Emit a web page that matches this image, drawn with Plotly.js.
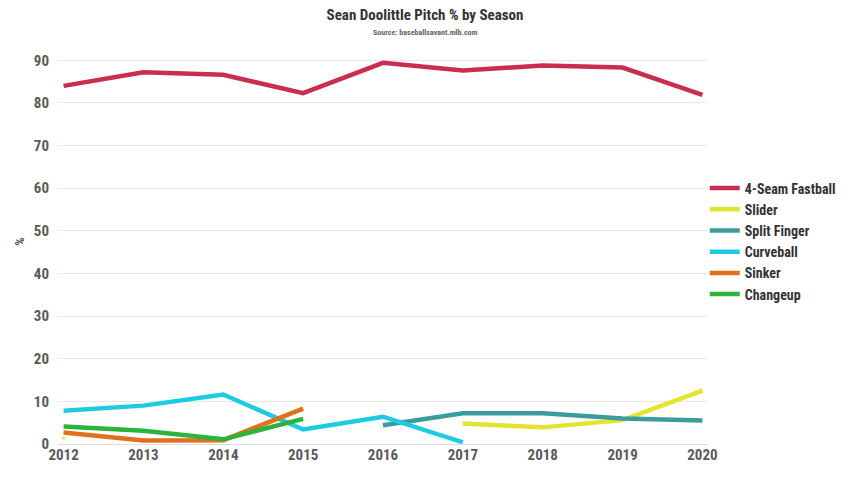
<!DOCTYPE html>
<html>
<head>
<meta charset="utf-8">
<script src="https://cdn.plot.ly/plotly-3.0.1.min.js"></script>
<style>html,body{margin:0;padding:0;background:#fff;}#chart{width:850px;height:478px;}</style>
</head>
<body>
<div id="chart"></div>
<script>
const seasons = [2012, 2013, 2014, 2015, 2016, 2017, 2018, 2019, 2020];
const fastball = [84.0, 87.2, 86.6, 82.3, 89.4, 87.6, 88.8, 88.3, 81.9];
const slider = [1.4, null, null, null, null, 4.8, 3.9, 5.6, 12.5];
const splitFinger = [null, null, null, null, 4.4, 7.2, 7.2, 6.0, 5.5];
const curveball = [7.8, 9.0, 11.6, 3.4, 6.4, 0.4, null, null, null];
const sinker = [2.7, 0.8, 0.9, 8.3, null, null, null, null, null];
const changeup = [4.1, 3.1, 1.1, 5.9, null, null, null, null, null];
const yTicks = [0, 10, 20, 30, 40, 50, 60, 70, 80, 90];

const FONT = "'Roboto Condensed', 'Liberation Sans Narrow', 'DejaVu Sans Condensed', Roboto, sans-serif";

const series = [
  {name: '4-Seam Fastball', y: fastball, color: '#c92d4f'},
  {name: 'Slider', y: slider, color: '#e3e52c'},
  {name: 'Split Finger', y: splitFinger, color: '#3a9c9c'},
  {name: 'Curveball', y: curveball, color: '#1fcbe3'},
  {name: 'Sinker', y: sinker, color: '#e0701c'},
  {name: 'Changeup', y: changeup, color: '#2ab43a'}
];

const traces = series.map(s => ({
  x: seasons,
  y: s.y,
  name: s.name,
  type: 'scatter',
  mode: 'lines',
  line: {color: s.color, width: 4.5},
  connectgaps: false
}));

// isolated points (no neighbours) drawn as tiny dots
series.forEach(s => {
  const xs = [], ys = [];
  s.y.forEach((v, i) => {
    const prev = i > 0 ? s.y[i - 1] : null;
    const next = i < s.y.length - 1 ? s.y[i + 1] : null;
    if (v !== null && prev === null && next === null) { xs.push(seasons[i]); ys.push(v); }
  });
  if (xs.length) {
    traces.push({x: xs, y: ys, type: 'scatter', mode: 'markers', showlegend: false,
      marker: {color: s.color, size: 3}, name: s.name});
  }
});

const layout = {
  width: 850,
  height: 478,
  paper_bgcolor: '#ffffff',
  plot_bgcolor: '#ffffff',
  margin: {l: 58, r: 142, t: 39, b: 34, autoexpand: false},
  font: {family: FONT, color: '#333333'},
  title: {
    text: '<b>Sean Doolittle Pitch % by Season</b>',
    font: {family: FONT, size: 15, color: '#333333'},
    x: 0.5,
    xref: 'container',
    xanchor: 'center',
    y: 1 - 15 / 478,
    yref: 'container',
    yanchor: 'middle'
  },
  annotations: [{
    text: '<b>Source: baseballsavant.mlb.com</b>',
    xref: 'paper', yref: 'paper',
    x: (425 - 58) / 650, y: 1,
    xanchor: 'center', yanchor: 'middle', yshift: 7,
    showarrow: false,
    font: {family: FONT, size: 8, color: '#666666'}
  }],
  xaxis: {
    range: [2011.93, 2020.07],
    tickvals: seasons,
    ticktext: seasons.map(String),
    showgrid: false,
    zeroline: false,
    showline: false,
    ticks: '',
    tickfont: {family: FONT, size: 15, color: '#5a5a5a', weight: 'bold'},
    fixedrange: true
  },
  yaxis: {
    range: [0, 95],
    tickvals: yTicks,
    ticktext: yTicks.map(String),
    showgrid: true,
    gridcolor: '#e8e8e8',
    gridwidth: 1,
    zeroline: true,
    zerolinecolor: '#dddddd',
    zerolinewidth: 1,
    showline: false,
    ticks: '',
    ticklabelstandoff: 8,
    tickfont: {family: FONT, size: 15, color: '#5a5a5a', weight: 'bold'},
    title: {text: '<b>%</b>', font: {family: FONT, size: 13, color: '#555555'}, standoff: 6},
    fixedrange: true
  },
  showlegend: true,
  legend: {
    x: 0.995,
    xanchor: 'left',
    y: 0.5,
    yanchor: 'middle',
    font: {family: FONT, size: 14, color: '#333333', weight: 'bold'},
    tracegroupgap: 0,
    itemwidth: 30,
    bgcolor: 'rgba(0,0,0,0)'
  }
};

Plotly.newPlot('chart', traces, layout, {displayModeBar: false, staticPlot: true});
</script>
</body>
</html>
